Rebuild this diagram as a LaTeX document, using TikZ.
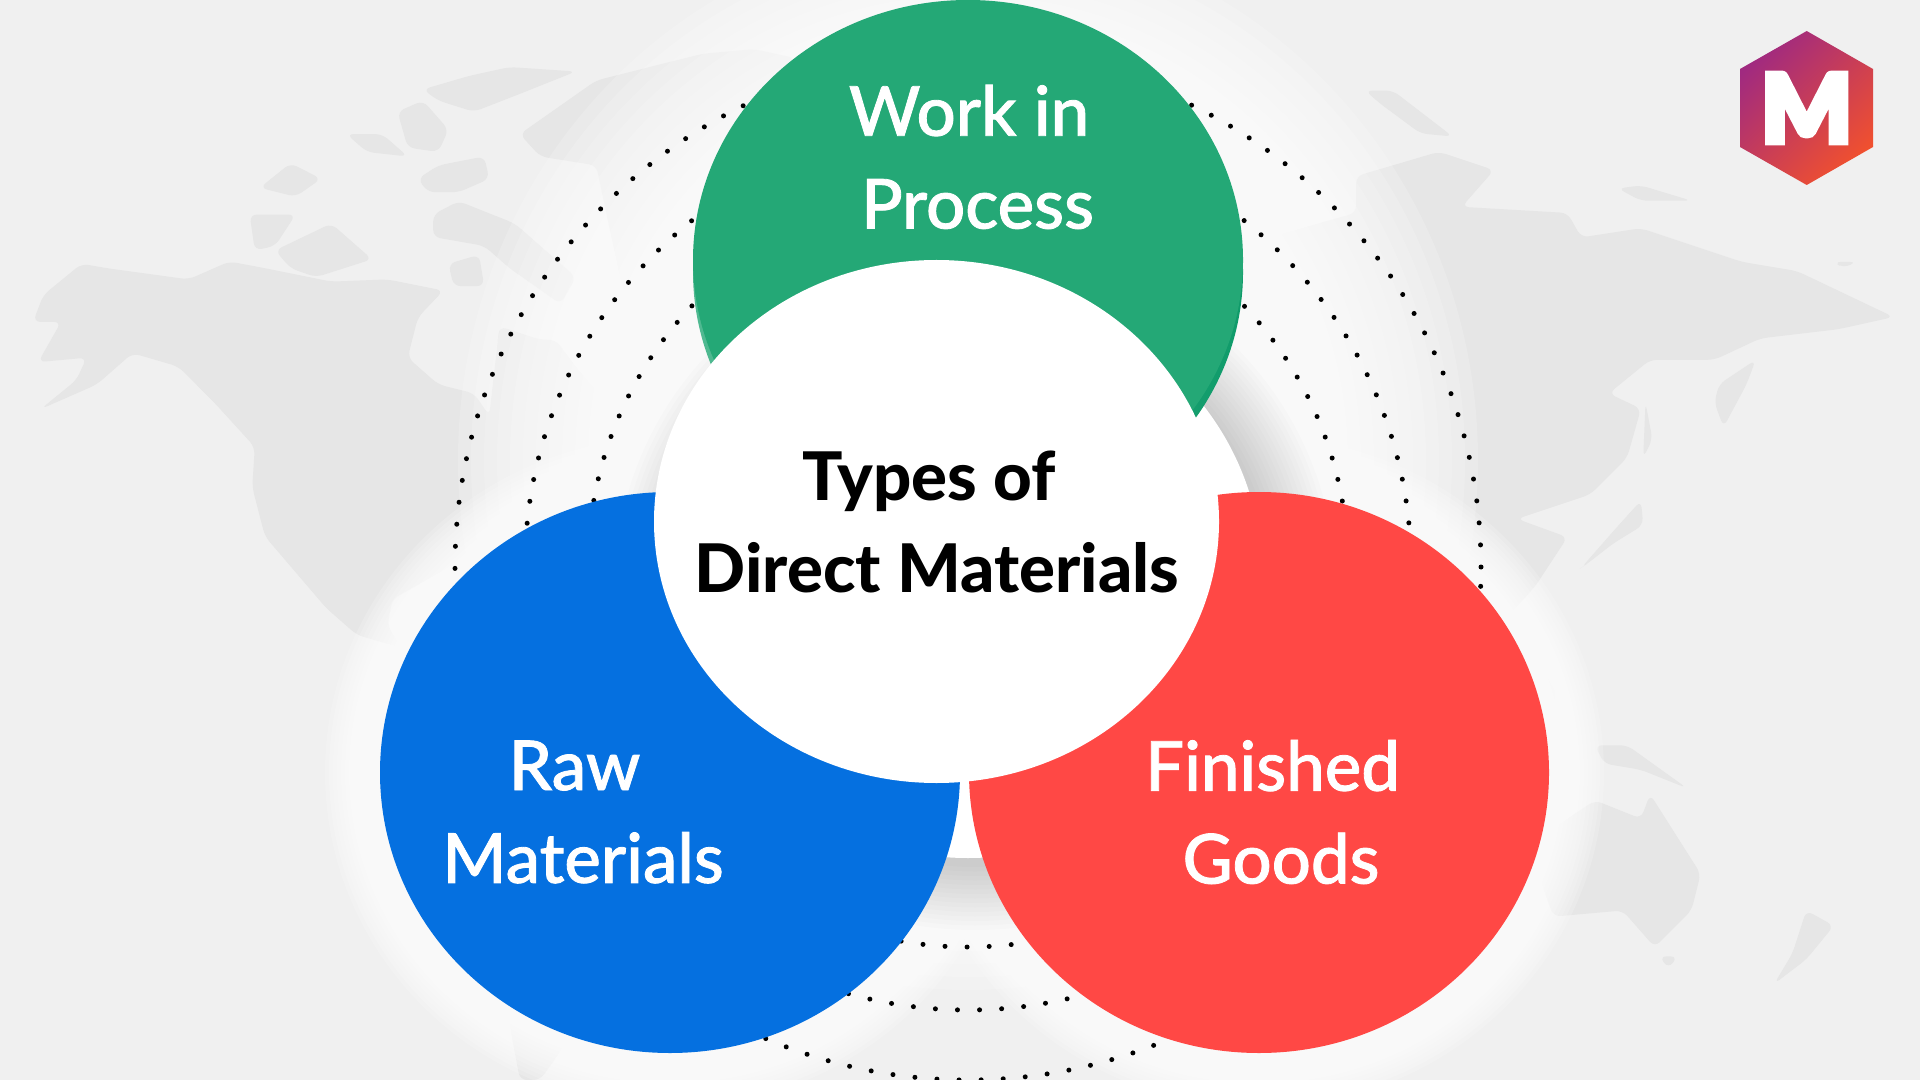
\documentclass[tikz,border=0pt]{standalone}
\usepackage{fontspec}
\setmainfont{Lato}
\newfontfamily\logofont[FakeBold=6]{Lato Black}
\newfontfamily\medfont[FakeBold=1.2]{Lato Medium}
\newfontfamily\headfont{Lato Heavy}
\definecolor{paper}{HTML}{F0F0F0}
\definecolor{land}{HTML}{E6E6E6}
\definecolor{workgreen}{HTML}{24A876}
\definecolor{workdark}{HTML}{0F9B6A}
\definecolor{rawblue}{HTML}{0570E0}
\definecolor{goodsred}{HTML}{FF4845}
\definecolor{logoA}{HTML}{A02A80}
\definecolor{logoB}{HTML}{DA2C4E}
\definecolor{logoC}{HTML}{F0502F}
\begin{document}
\begin{tikzpicture}
	\tikzset{
		landmass/.style ={
			fill=land,
			rounded corners=2pt
		},
		dotring/.style ={
			draw=black,
			line width=0.05cm, %dot size
			line cap=round,
			dash pattern=on 0pt off 0.221cm
		},
		nametext/.style ={
			font=\medfont\fontsize{19.6pt}{26.4pt}\selectfont,
			text=white,
			align=center,
			inner sep=0pt
		},
		headtext/.style ={
			font=\headfont\fontsize{19.1pt}{26.4pt}\selectfont,
			text=black,
			align=center,
			inner sep=0pt
		}
	}
	\useasboundingbox (0,0) rectangle (19.2,-10.8);
	\clip (0,0) rectangle (19.2,-10.8);
	\fill[paper] (0,0) rectangle (19.2,-10.8);
	%America, arctic islands, Greenland
	\begin{scope}[x=0.005102cm,y=-0.004464cm]
		\fill[landmass] (65,720)--(85,660)--(160,590)--(210,600)--(370,625)--(450,585)--(520,600)--(650,630)--(760,625)--(870,650)--(820,710)--(800,800)--(860,860)--(930,880)--(960,930)--(980,730)--(1060,760)--(1090,760)--(1130,820)--(1190,900)--(1220,1000)--(1100,1060)--(1040,1100)--(985,1170)--(880,1270)--(770,1340)--(760,1400)--(790,1450)--(700,1420)--(640,1360)--(520,1200)--(495,1090)--(500,1000)--(420,900)--(350,820)--(260,790)--(190,860)--(80,915)--(150,850)--(170,800)--(75,810)--(120,720)--cycle;
		\fill[landmass] (1020,300)--(1170,180)--(1380,120)--(1480,110)--(1560,130)--(1500,500)--(1350,720)--(1280,750)--(1220,640)--(1170,370)--(1060,350)--cycle;
		\fill[landmass] (830,200)--(920,170)--(1000,150)--(1130,160)--(1020,210)--(930,250)--(860,225)--cycle;
		\fill[landmass] (780,250)--(830,225)--(880,290)--(860,340)--(800,330)--cycle;
		\fill[landmass] (950,350)--(960,400)--(900,430)--(840,430)--(820,400)--(860,370)--cycle;
		\fill[landmass] (490,480)--(580,480)--(540,550)--(500,560)--cycle;
		\fill[landmass] (540,560)--(650,500)--(730,580)--(620,620)--(570,600)--cycle;
		\fill[landmass] (850,480)--(900,450)--(1010,500)--(1130,620)--(1100,680)--(1000,600)--(950,550)--(850,530)--cycle;
		\fill[landmass] (510,420)--(570,365)--(630,400)--(580,440)--cycle;
		\fill[landmass] (680,300)--(750,300)--(800,350)--(720,340)--cycle;
		\fill[landmass] (880,590)--(940,570)--(950,640)--(890,640)--cycle;
	\end{scope}
	%Asia, Australia
	\begin{scope}[shift={(12,-0.6)},x=0.004591cm,y=-0.006124cm]
		\fill[landmass] (340,190)--(520,150)--(640,180)--(570,240)--(800,250)--(830,290)--(960,275)--(1180,330)--(1300,345)--(1510,420)--(1390,440)--(1220,455)--(1120,490)--(980,490)--(890,545)--(960,570)--(930,650)--(850,710)--(770,730)--(690,750)--(800,780)--(730,860)--(670,910)--(610,860)--(280,700)--(150,520)--(100,300)--(340,250)--cycle;
		\fill[landmass] (1130,530)--(1210,490)--(1190,530)--(1140,600)--(1120,560)--cycle;
		\fill[landmass] (830,830)--(900,770)--(960,720)--(965,760)--(900,790)--(840,825)--cycle;
		\fill[landmass] (970,560)--(985,620)--(965,650)--cycle;
		\fill[landmass] (910,210)--(960,205)--(1070,230)--(960,230)--cycle;
		\fill[landmass] (360,50)--(420,50)--(550,125)--(480,120)--(390,70)--cycle;
		\fill[landmass] (760,1260)--(860,1210)--(960,1240)--(980,1200)--(1090,1330)--(1070,1390)--(990,1450)--(920,1390)--(770,1400)--(740,1340)--cycle;
		\fill[landmass] (860,1120)--(930,1120)--(1060,1190)--(960,1160)--(880,1150)--cycle;
		\fill[landmass] (1320,1390)--(1380,1415)--(1320,1470)--(1250,1510)--(1290,1460)--cycle;
		\fill[landmass] (1000,1465)--(1040,1465)--(1020,1485)--cycle;
		\fill[landmass] (720,960)--(780,1040)--(750,1060)--cycle;
		\fill[landmass] (1380,330)--(1430,330)--(1400,340)--cycle;
	\end{scope}
	%South America tip
	\fill[landmass] (5.08,-10.16)--(5.6,-10.1)--(5.65,-10.45)--(5.4,-10.8)--(5.2,-10.8)--cycle;
	%white glow
	\foreach \g in {0,...,14}{
		\fill[white,opacity=0.16] (9.68,-4.6) ellipse ({5.1-0.13*\g} and {5.3-0.13*\g});
		\fill[white,opacity=0.16] (6.7,-7.725) ellipse ({3.45-0.04*\g} and {3.35-0.04*\g});
		\fill[white,opacity=0.16] (12.59,-7.725) ellipse ({3.45-0.04*\g} and {3.35-0.04*\g});
	}
	%dotted rings
	\draw[dotring] (9.68,-5.67) circle (5.13);
	\draw[dotring] (9.68,-5.67) circle (4.43);
	\draw[dotring] (9.68,-5.67) circle (3.80);
	%back lobe and its shadow
	\foreach \g in {0,...,14}{
		\fill[black,opacity=0.012] (9.75,-5.85) ellipse ({3.6-0.045*\g} and {3.45-0.045*\g});
	}
	\fill[white] (9.68,-5.75) ellipse (2.94 and 2.83);
	%coloured circles
	\shade[left color=workgreen!80!white,right color=workdark] (9.68,-2.72) ellipse (2.75 and 2.6);
	\fill[workgreen] (9.68,-2.6) ellipse (2.75 and 2.6);
	\fill[rawblue] (6.7,-7.725) ellipse (2.9 and 2.805);
	\fill[goodsred] (12.59,-7.725) ellipse (2.9 and 2.805);
	\fill[white] (9.365,-5.215) ellipse (2.825 and 2.615);
	%labels
	\node[nametext] (work) at(9.69,-1.57) {Work in\\\hspace*{0.17cm}Process};
	\node[headtext] (core) at(9.29,-5.22) {Types of\\\hspace*{0.16cm}Direct Materials};
	\node[nametext] (raw) at(5.745,-8.12) {Raw\\\hspace*{0.17cm}Materials};
	\node[nametext] (goods) at(12.725,-8.12) {Finished\\\hspace*{0.17cm}Goods};
	%logo
	\shade[left color=logoA,middle color=logoB,right color=logoC,shading angle=45] (18.067,-0.31)--(18.73,-0.69)--(18.73,-1.47)--(18.067,-1.85)--(17.4,-1.47)--(17.4,-0.69)--cycle;
	\node[font=\logofont\fontsize{27pt}{27pt}\selectfont,text=white,inner sep=0pt] (logo) at(18.067,-1.08) {M};
\end{tikzpicture}
\end{document}
